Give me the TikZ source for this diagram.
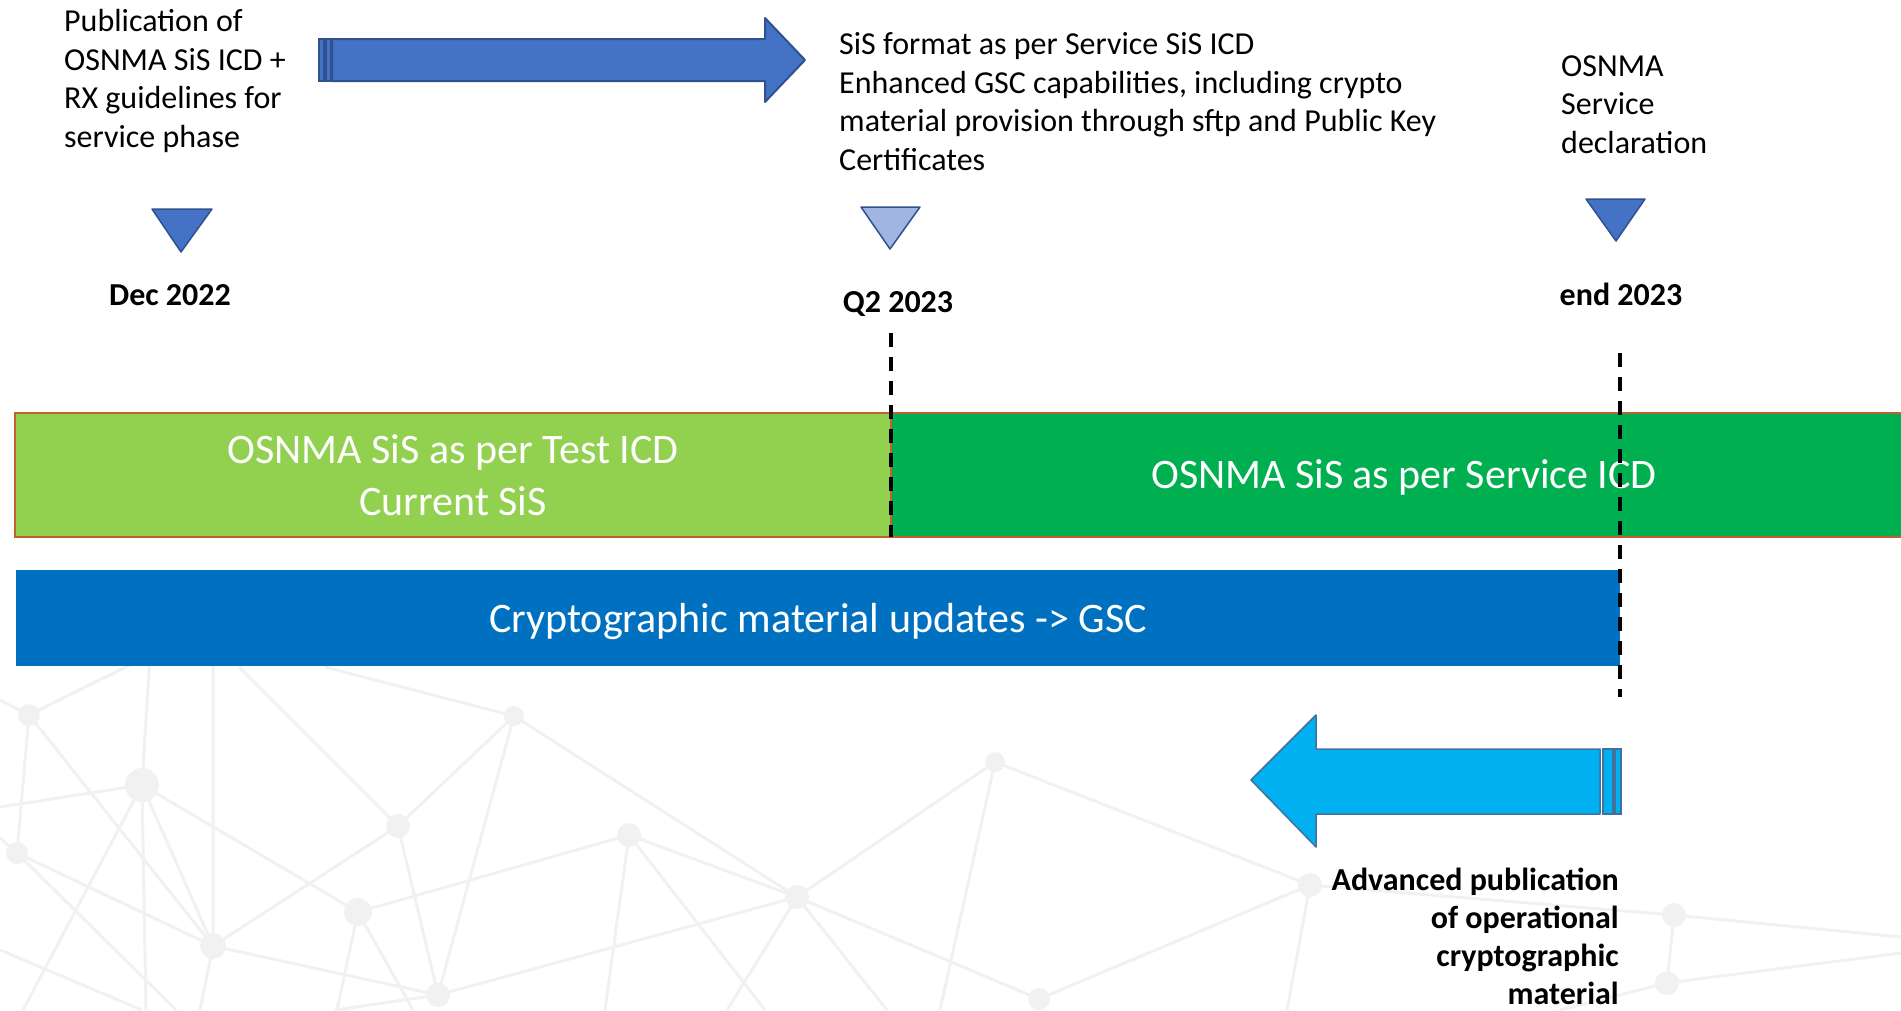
\documentclass[tikz,border=0pt]{standalone}
\usepackage{fontspec}
\setmainfont{Carlito}
\definecolor{arrowblue}{HTML}{4472C4}
\definecolor{arrowedge}{HTML}{2F528F}
\definecolor{paleblue}{HTML}{A0B5E1}
\definecolor{testgreen}{HTML}{92D050}
\definecolor{servgreen}{HTML}{00B050}
\definecolor{barrim}{HTML}{C0622A}
\definecolor{cryptblue}{HTML}{0070C0}
\definecolor{skyarrow}{HTML}{00B0F0}
\definecolor{skyedge}{HTML}{41719C}
\definecolor{netgrey}{HTML}{F1F1F1}

\begin{document}
\begin{tikzpicture}[x=1pt,y=-1pt,
    lbl/.style={inner sep=0pt,font=\fontsize{32}{38.5}\selectfont,align=left},
    datelbl/.style={inner sep=0pt,font=\fontsize{32}{37.7}\selectfont\bfseries},
    bar/.style={inner sep=0pt,text=white,font=\fontsize{42}{52}\selectfont,align=center},
    net/.style={netgrey,line width=3pt},
    marker/.style={draw=arrowedge,line width=1.5pt,line join=round},
    timeline/.style={black,line width=3.5pt,dash pattern=on 14pt off 10pt}]
      \useasboundingbox (0,0) rectangle (1901,1010);
      \clip (0,0) rectangle (1901,1010);

      % faint network in the background
      \coordinate (nP) at (150,655);
      \coordinate (nA) at (29,715);
      \coordinate (nB) at (142,785);
      \coordinate (nC) at (17,853);
      \coordinate (nD) at (398,826);
      \coordinate (nE) at (514,716);
      \coordinate (nF) at (358,912);
      \coordinate (nG) at (213,946);
      \coordinate (nH) at (438,995);
      \coordinate (nI) at (629,835);
      \coordinate (nJ) at (797,897);
      \coordinate (nK) at (995,762);
      \coordinate (nL) at (1039,999);
      \coordinate (nM) at (1310,885);
      \coordinate (nN) at (1674,915);
      \coordinate (nO) at (1667,983);
      \draw[net] (nA)--(nP) (nA)--(0,700) (nA)--(nC) (nA)--(nG);
      \draw[net] (nB)--(nP) (nB)--(0,807) (nB)--(nG) (nB)--(nF) (nB)--(23,1010) (nB)--(146,1010);
      \draw[net] (nC)--(nG) (nC)--(176,1010) (nC)--(0,838) (0,950)--(142,1010);
      \draw[net] (nG)--(213,640) (nG)--(nH) (nG)--(200,1010);
      \draw[net] (nD)--(239,667) (nD)--(nE) (nD)--(nG) (nD)--(nH);
      \draw[net] (nE)--(325,667) (nE)--(nH) (nE)--(nJ);
      \draw[net] (nF)--(nI) (nF)--(337,1010) (nF)--(413,1010);
      \draw[net] (nH)--(nJ) (nH)--(335,1010);
      \draw[net] (nI)--(nJ) (nI)--(605,1010) (nI)--(765,1010);
      \draw[net] (nJ)--(nK) (nJ)--(727,1010) (nJ)--(887,1010) (nJ)--(nL);
      \draw[net] (nK)--(nM) (nK)--(940,1010) (nL)--(nM) (nM)--(1287,1010);
      \draw[net] (nM)--(nN) (nN)--(1901,937) (nN)--(nO) (nO)--(1901,953) (nO)--(1560,1010);
      \foreach \p/\r in {nA/11,nB/17,nC/11,nD/12,nE/10,nF/14,nG/13,nH/12,nI/12,nJ/12,nK/10,nL/11,nM/12,nN/12,nO/12}
        \fill[netgrey] (\p) circle (\r);

      % publication arrow with striped tail
      \filldraw[fill=arrowblue,draw=arrowedge,line width=2pt,line join=round]
        (332,39)--(765,39)--(765,18)--(805,60)--(765,102)--(765,81)--(332,81)--cycle;
      \filldraw[fill=arrowblue,draw=arrowedge,line width=2pt] (319,39) rectangle (324,81);
      \filldraw[fill=arrowblue,draw=arrowedge,line width=2pt] (326,39) rectangle (331,81);

      % texts above the milestones (base = last line)
      \node[lbl,anchor=base west] (pub) at (64,147)
        {Publication of\\OSNMA SiS ICD +\\RX guidelines for\\service phase};
      \node[lbl,anchor=base west] (sisfmt) at (839,170)
        {SiS format as per Service SiS ICD\\Enhanced GSC capabilities, including crypto\\material provision through sftp and Public Key\\Certificates};
      \node[lbl,anchor=base west] (decl) at (1561,153) {OSNMA\\Service\\declaration};

      % milestones
      \filldraw[marker,fill=arrowblue] (152,209)--(212,209)--(181,252)--cycle;
      \filldraw[marker,fill=paleblue] (861,207)--(920,207)--(890,249)--cycle;
      \filldraw[marker,fill=arrowblue] (1586,199)--(1645,199)--(1616,241)--cycle;
      \node[datelbl,anchor=base] (dec) at (170,305) {Dec 2022};
      \node[datelbl,anchor=base] (qtwo) at (898,312) {Q2 2023};
      \node[datelbl,anchor=base] (endyr) at (1621,305) {end 2023};

      % phases
      \node[bar,fill=testgreen,draw=barrim,line width=2.5pt,minimum width=876pt,minimum height=124pt]
        (testicd) at (453,475) {OSNMA SiS as per Test ICD\\Current SiS};
      \node[bar,fill=servgreen,draw=barrim,line width=2.5pt,minimum width=1026pt,minimum height=124pt,
        text height=34pt,text depth=8pt]
        (servicd) at (1404,475) {OSNMA SiS as per Service ICD};
      \node[bar,fill=cryptblue,minimum width=1604pt,minimum height=96pt,text height=36pt,text depth=8pt]
        (crypt) at (818,618) {Cryptographic material updates -> GSC};

      % dashed time marks
      \coordinate (qtwotop) at (891,333);
      \coordinate (qtwobot) at (891,537);
      \coordinate (endtop) at (1620,353);
      \coordinate (endbot) at (1620,697);
      \draw[timeline] (qtwotop)--(qtwobot);
      \draw[timeline] (endtop)--(endbot);

      % advanced publication arrow
      \filldraw[fill=skyarrow,draw=skyedge,line width=1.5pt,line join=round]
        (1600,749)--(1316,749)--(1316,715)--(1251,780)--(1316,847)--(1316,814)--(1600,814)--cycle;
      \filldraw[fill=skyarrow,draw=skyedge,line width=1.5pt] (1603,749) rectangle (1613,814);
      \filldraw[fill=skyarrow,draw=skyedge,line width=1.5pt] (1615,749) rectangle (1621,814);
      \node[datelbl,align=right,anchor=base east] (advpub) at (1619,1004)
        {Advanced publication\\of operational\\cryptographic\\material};
\end{tikzpicture}
\end{document}
